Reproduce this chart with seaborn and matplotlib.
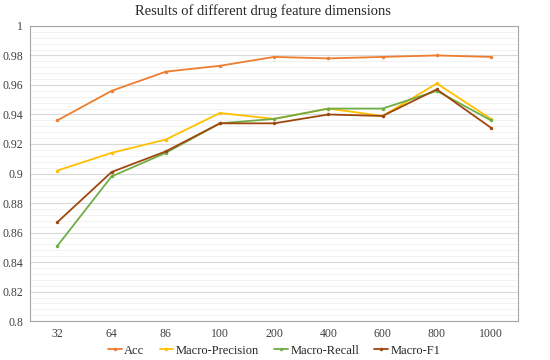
import pandas as pd
import numpy as np
import seaborn as sns
import matplotlib.pyplot as plt
from matplotlib.ticker import MultipleLocator

# Data
dims = ['32', '64', '86', '100', '200', '400', '600', '800', '1000']
acc = [0.936, 0.956, 0.969, 0.973, 0.979, 0.978, 0.979, 0.980, 0.979]
precision = [0.902, 0.914, 0.923, 0.941, 0.937, 0.944, 0.939, 0.961, 0.937]
recall = [0.851, 0.898, 0.914, 0.934, 0.937, 0.944, 0.944, 0.956, 0.936]
f1 = [0.867, 0.901, 0.915, 0.934, 0.934, 0.940, 0.939, 0.957, 0.931]

df = pd.DataFrame({'dim': dims, 'Acc': acc, 'Macro-Precision': precision,
                   'Macro-Recall': recall, 'Macro-F1': f1})
long = df.melt(id_vars='dim', var_name='metric', value_name='score')

colors = {'Acc': '#ED7D31', 'Macro-Precision': '#FFC000',
          'Macro-Recall': '#70AD47', 'Macro-F1': '#9E480E'}

sns.set_style('white')
plt.rcParams['font.family'] = ['Liberation Serif', 'DejaVu Serif']

fig = plt.figure(figsize=(5.5, 3.6), dpi=100)
ax = fig.add_axes([0.055, 0.108, 0.887, 0.82])

sns.lineplot(data=long, x='dim', y='score', hue='metric', palette=colors,
             marker='o', markersize=2.5, markeredgewidth=0, linewidth=1.3,
             sort=False, ax=ax)

ax.set_xlim(-0.5, len(dims) - 0.5)
ax.set_ylim(0.8, 1.0)
ax.yaxis.set_minor_locator(MultipleLocator(0.004))
ax.set_yticks(np.arange(0.8, 1.001, 0.02))
ax.set_yticklabels(['0.8', '0.82', '0.84', '0.86', '0.88', '0.9', '0.92',
                    '0.94', '0.96', '0.98', '1'])
ax.grid(axis='y', which='major', color='#D9D9D9', linewidth=0.8)
ax.grid(axis='y', which='minor', color='#F0F0F0', linewidth=0.6)
ax.set_axisbelow(True)
for s in ax.spines.values():
    s.set_color('#A6A6A6')
    s.set_linewidth(0.8)
ax.tick_params(axis='both', length=0, labelsize=8.5, colors='#404040', pad=5)
ax.set_xlabel('')
ax.set_ylabel('')
ax.set_title('Results of different drug feature dimensions', fontsize=10.5,
             pad=8, color='#262626', x=0.477)

ax.legend(loc='center', bbox_to_anchor=(0.5, -0.1), ncol=4,
          frameon=False, fontsize=9, handlelength=1.1, handletextpad=0.2,
          columnspacing=1.2, borderpad=0)

fig.savefig('out.png', dpi=100)
